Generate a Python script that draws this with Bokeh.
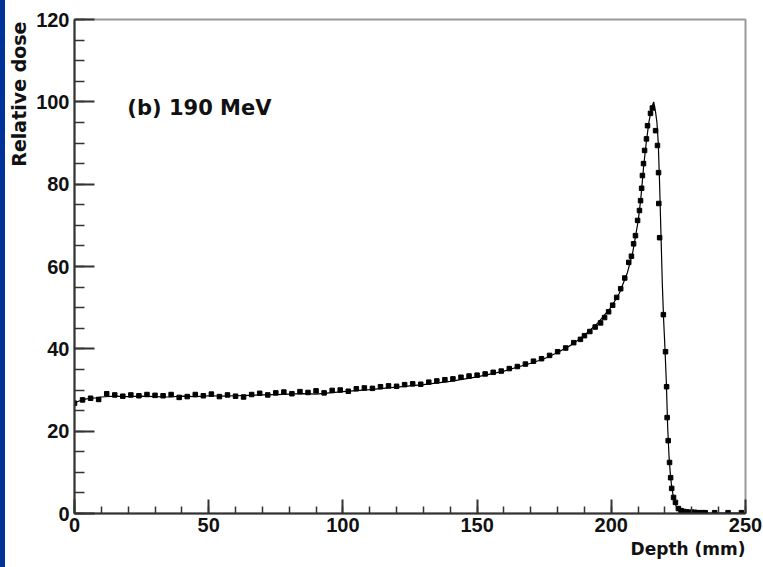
from bokeh.plotting import figure
from bokeh.models import SingleIntervalTicker, Label, Range1d, Title
from bokeh.embed import file_html
from bokeh.resources import INLINE

# Measured points (square markers)
m_depth = [0, 3, 6, 9, 12, 15, 18, 21, 24, 27, 30, 33, 36, 39, 42, 45, 48, 51, 54, 57,
           60, 63, 66, 69, 72, 75, 78, 81, 84, 87, 90, 93, 96, 99, 102, 105, 108, 111, 114, 117,
           120, 123, 126, 129, 132, 135, 138, 141, 144, 147, 150, 153, 156, 159, 162, 165, 168, 171, 174, 177,
           180, 183, 186, 188.5, 190, 192, 194, 196, 197.5, 199, 200.5, 202, 203.5, 205, 206.5, 207.5, 208.3, 209, 209.8, 210.5,
           210.9, 211.3, 211.6, 212.0, 212.4, 213.1, 213.5, 214.6, 215.3, 216.5, 217.2, 217.6, 217.7, 218.0, 219.4, 220.2, 220.6, 220.8, 221.2, 221.7,
           222.1, 222.5, 223.2, 223.9, 225, 226, 227, 228, 229, 230, 231, 232, 233, 234, 235, 238.5, 243.5, 248.5]
m_dose = [26.8, 27.6, 28.0, 27.7, 29.1, 28.8, 28.5, 28.8, 28.6, 28.9, 28.7, 28.6, 28.9, 28.2, 28.4, 28.9, 28.6, 29.0, 28.4, 28.8,
          28.5, 28.3, 28.9, 29.2, 28.8, 29.3, 29.5, 29.1, 29.6, 29.4, 29.8, 29.3, 29.9, 30.0, 29.7, 30.3, 30.5, 30.4, 30.8, 31.0,
          30.9, 31.3, 31.5, 31.4, 31.9, 32.2, 32.5, 32.7, 33.1, 33.4, 33.6, 33.9, 34.3, 34.6, 35.2, 35.7, 36.3, 37.0, 37.6, 38.4,
          39.3, 40.2, 41.5, 42.3, 43.2, 44.2, 45.3, 46.3, 47.6, 49.0, 50.6, 52.5, 54.6, 57.2, 61.0, 62.5, 65.5, 67.5, 71.2, 73.6,
          76.0, 79.0, 82.1, 85.0, 88.2, 91.0, 94.2, 97.2, 98.5, 93.0, 89.4, 82.8, 75.3, 67.0, 48.3, 39.3, 30.8, 23.3, 17.7, 12.4,
          8.7, 6.1, 3.9, 2.7, 1.2, 0.7, 0.5, 0.4, 0.3, 0.3, 0.3, 0.2, 0.2, 0.2, 0.2, 0.2, 0.2, 0.2]

# Simulated curve (solid line)
l_depth = [0, 2, 4, 6, 8, 10, 15, 20, 25, 30, 35, 40, 45, 50, 55, 60, 65, 70, 75, 80,
           85, 90, 95, 100, 110, 120, 130, 140, 150, 160, 170, 175, 180, 185, 190, 195, 200, 203, 206, 208,
           210, 211, 212, 213, 214, 215, 215.8, 216.5, 217, 217.5, 218, 218.5, 219, 219.5, 220, 220.5, 221, 221.5, 222, 222.5,
           223, 224, 225, 226, 228, 230, 235, 240, 250]
l_dose = [26.9, 27.4, 27.8, 28.0, 28.1, 28.3, 28.5, 28.4, 28.5, 28.4, 28.3, 28.5, 28.4, 28.6, 28.5, 28.6, 28.7, 28.8, 28.9, 29.0,
          29.1, 29.0, 29.3, 29.6, 30.1, 30.7, 31.3, 32.1, 33.2, 34.6, 36.5, 37.6, 39.1, 40.9, 43.3, 46.3, 50.2, 53.5, 58.5, 63.5,
          71.0, 76.5, 84.0, 90.0, 95.0, 98.5, 100.0, 97.5, 95.0, 90.0, 80.0, 68.0, 56.0, 47.0, 40.0, 32.0, 21.0, 14.0, 9.5, 6.5,
          4.5, 2.0, 0.8, 0.4, 0.2, 0.1, 0.1, 0.1, 0.1]

x_ticks_interval = 50
y_ticks_interval = 20

p = figure(width=763, height=567, output_backend="svg", toolbar_location=None,
           x_range=Range1d(0, 250), y_range=Range1d(0, 120),
           min_border_left=74, min_border_right=18, min_border_top=19, min_border_bottom=54)
p.background_fill_color = "white"
p.border_fill_color = None
p.outline_line_color = "#999999"
p.outline_line_width = 2
p.xgrid.visible = False
p.ygrid.visible = False

p.xaxis.ticker = SingleIntervalTicker(interval=x_ticks_interval, num_minor_ticks=5)
p.yaxis.ticker = SingleIntervalTicker(interval=y_ticks_interval, num_minor_ticks=4)

for ax, mj, mn in ((p.xaxis, 14, 7), (p.yaxis, 20, 10)):
    ax.major_tick_in = mj
    ax.major_tick_out = 0
    ax.minor_tick_in = mn
    ax.minor_tick_out = 0
    ax.axis_line_color = "#333333"
    ax.axis_line_width = 2
    ax.major_tick_line_color = "#333333"
    ax.major_tick_line_width = 2
    ax.minor_tick_line_color = "#333333"
    ax.minor_tick_line_width = 1.5
    ax.major_label_text_font = "Liberation Sans"
    ax.major_label_text_font_style = "bold"
    ax.major_label_text_font_size = "20px"
    ax.major_label_text_color = "#111111"
p.xaxis.major_label_standoff = 4
p.yaxis.major_label_standoff = 5

p.line(l_depth, l_dose, line_color="black", line_width=1.2)
p.scatter(m_depth, m_dose, marker="square", size=4.5, color="black")

p.add_layout(Label(x=19.7, y=98.6, text="(b) 190 MeV", text_font="DejaVu Sans",
                   text_font_style="bold", text_font_size="21px", text_color="#111111",
                   text_baseline="alphabetic", text_align="left"))

xt = Title(text="Depth (mm)", align="right", text_font="DejaVu Sans", text_font_style="bold",
           text_font_size="17px", text_color="#111111", standoff=5, offset=0)
p.add_layout(xt, "below")
yt = Title(text="Relative dose", align="right", text_font="DejaVu Sans", text_font_style="bold",
           text_font_size="19px", text_color="#111111", standoff=7, offset=2)
p.add_layout(yt, "left")

strip_css = ("{% block preamble %}<style>html { background: linear-gradient(to right, "
             "#003399 0px, #003399 5px, #ffffff 5px, #ffffff 100%); } "
             "body { background: transparent; }</style>{% endblock %}")
try:
    html = file_html(p, INLINE, template=strip_css)
except Exception:
    html = file_html(p, INLINE)
open("out.html", "w").write(html)
